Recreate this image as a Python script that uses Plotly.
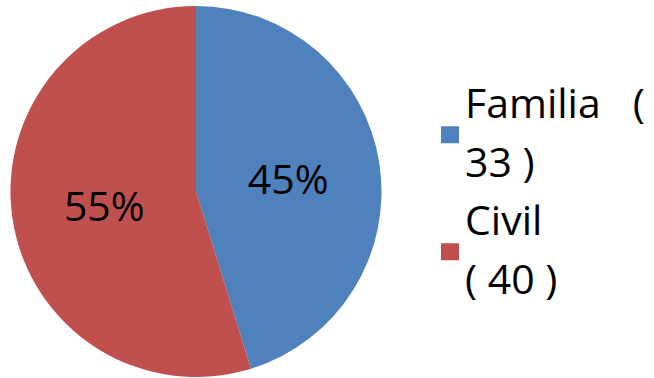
import plotly.graph_objects as go

# Case counts by area
categories = ["Familia", "Civil"]
values = [33, 40]
colors = ["#4F81BD", "#C0504D"]
# Legend entries as wrapped in two lines each
legend_lines = [["Familia   (", "33 )"], ["Civil", "( 40 )"]]

W, H = 654, 378
FONT = "Open Sans"

fig = go.Figure(
    go.Pie(
        labels=categories,
        values=values,
        sort=False,
        direction="clockwise",
        rotation=0,
        marker=dict(colors=colors, line=dict(width=0)),
        texttemplate="%{percent:.0%}",
        textposition="inside",
        insidetextorientation="horizontal",
        textfont=dict(family=FONT, size=41, color="#000000"),
        domain=dict(x=[10 / W, 382 / W], y=[1 / H, 372 / H]),
        hoverinfo="skip",
        showlegend=False,
    )
)

# Legend drawn as colour squares plus two-line labels
line_gap = 58.5  # px between text lines
first_line_y = 102  # px from top, middle of first line
item_x = 463
shapes, annotations = [], []
for i, (color, lines) in enumerate(zip(colors, legend_lines)):
    y0 = first_line_y + i * 2 * line_gap
    for j, txt in enumerate(lines):
        annotations.append(dict(
            x=item_x / W, y=1 - (y0 + j * line_gap) / H,
            xref="paper", yref="paper",
            xanchor="left", yanchor="middle",
            text=txt, showarrow=False,
            font=dict(family=FONT, size=41, color="#000000"),
        ))
    sq_mid = y0 + line_gap / 2 + 3.5
    shapes.append(dict(
        type="rect", xref="paper", yref="paper",
        x0=441 / W, x1=459 / W,
        y0=1 - (sq_mid - 8.5) / H, y1=1 - (sq_mid + 8.5) / H,
        fillcolor=color, line=dict(width=0),
    ))

fig.update_layout(
    width=W,
    height=H,
    margin=dict(l=0, r=0, t=0, b=0),
    paper_bgcolor="white",
    plot_bgcolor="white",
    showlegend=False,
    shapes=shapes,
    annotations=annotations,
)

fig.write_html("out.html")
